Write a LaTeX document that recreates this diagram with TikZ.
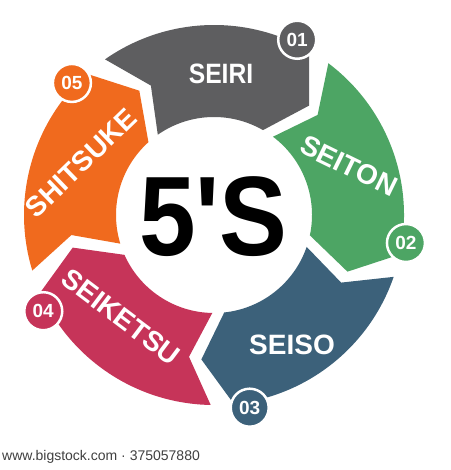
\documentclass[tikz,border=0pt]{standalone}
\usepackage{fontspec}
\setmainfont{Liberation Sans}
\usepackage{graphicx}
\definecolor{cgray}{HTML}{5E5E60}
\definecolor{cgreen}{HTML}{4DA564}
\definecolor{cblue}{HTML}{3C617A}
\definecolor{cred}{HTML}{C63459}
\definecolor{corange}{HTML}{F06A1E}
\definecolor{cwm}{HTML}{404040}
\tikzset{
  lbl/.style={text=white, inner sep=0pt, font=\bfseries\fontsize{28}{28}\selectfont},
  badge/.style={circle, minimum size=38pt, inner sep=0pt, draw=white, line width=2.5pt,
    text=white, font=\bfseries\fontsize{19}{19}\selectfont},
}
\begin{document}
\begin{tikzpicture}[x=1pt,y=1pt]
\useasboundingbox (0,0) rectangle (450,470);
\fill[white] (0,0) rectangle (450,470);
\begin{scope}[shift={(214,255)}]
\foreach \c/\col in {92.5/cgray, 20.5/cgreen, -51.5/cblue, -123.5/cred, -195.5/corange} {
  \pgfmathsetmacro\T{\c+32.5}
  \pgfmathsetmacro\H{\c-32.5}
  \pgfmathsetmacro\Hp{\H-11}
  \pgfmathsetmacro\Tn{\T-9}
  \fill[\col] (\T:190pt) arc[start angle=\T, end angle=\H, radius=190pt]
     -- (\Hp:145pt) -- (\H:98pt) arc[start angle=\H, end angle=\T, radius=98pt]
     -- (\Tn:144pt) -- cycle;
}
\node[badge, fill=cgray]   (b1) at (64.6:194pt) {01};
\node[badge, fill=cgreen]  (b2) at (-8.3:194pt) {02};
\node[badge, fill=cblue]   (b3) at (-79.5:196pt) {03};
\node[badge, fill=cred]    (b4) at (-150.6:196pt) {04};
\node[badge, fill=corange] (b5) at (137.1:194pt) {05};
\end{scope}
\node[lbl] (seiri) at (221,396) {\scalebox{0.88}[1]{SEIRI}};
\node[lbl, rotate=-26] (seiton) at (349,304) {SEITON};
\node[lbl] (seiso) at (292,125) {SEISO};
\node[lbl, rotate=-37] (seiketsu) at (121,153) {SEIKETSU};
\node[lbl, rotate=44] (shitsuke) at (81,307) {SHITSUKE};
\node[inner sep=0pt, font=\bfseries\fontsize{113}{113}\selectfont] (title) at (213.5,253) {\scalebox{0.9}[1]{5\textquotesingle S}};
\node[anchor=west, inner sep=0pt, text=cwm, font=\fontsize{14}{14}\selectfont] (wm) at (2,13) {www.bigstock.com · 375057880};
\end{tikzpicture}
\end{document}
